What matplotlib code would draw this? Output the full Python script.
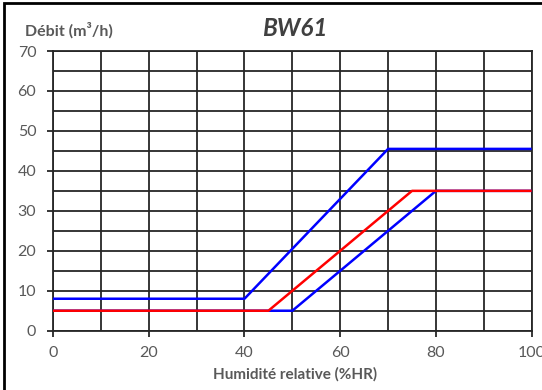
import matplotlib
matplotlib.use("Agg")
import matplotlib.pyplot as plt
from matplotlib.patches import Rectangle

# Data
hr_blue_high = [0, 40, 70, 100]
flow_blue_high = [8, 8, 45.5, 45.5]
hr_blue_low = [0, 50, 80, 100]
flow_blue_low = [5, 5, 35, 35]
hr_red = [0, 45, 75, 100]
flow_red = [5, 5, 35, 35]
x_ticks = [0, 20, 40, 60, 80, 100]
y_ticks = [0, 10, 20, 30, 40, 50, 60, 70]

plt.rcParams['font.family'] = ['Lato', 'DejaVu Sans']
gray = '#595959'

fig = plt.figure(figsize=(5.42, 3.9), dpi=100)
ax = fig.add_axes([53/542, 1 - 330.7/390, (531.7-53)/542, (330.7-51)/390])

ax.set_xlim(0, 100)
ax.set_ylim(0, 70)
ax.set_xticks(x_ticks)
ax.set_yticks(y_ticks)
ax.set_xticks(range(0, 101, 10), minor=True)
ax.set_yticks(range(0, 71, 5), minor=True)
ax.grid(True, which='both', color='#262626', linewidth=1.3)
ax.set_axisbelow(True)
for s in ax.spines.values():
    s.set_color('#262626')
    s.set_linewidth(1.3)

ax.tick_params(axis='both', which='major', length=4, width=1.3, color='#262626',
               labelsize=11.5, labelcolor=gray)
ax.tick_params(axis='y', which='major', pad=8)
ax.tick_params(axis='x', which='major', pad=7)
ax.tick_params(axis='both', which='minor', length=0)

ax.plot(hr_blue_high, flow_blue_high, color='#0000FF', linewidth=1.8, solid_capstyle='butt', zorder=3)
ax.plot(hr_blue_low, flow_blue_low, color='#0000FF', linewidth=1.8, solid_capstyle='butt', zorder=3)
ax.plot(hr_red, flow_red, color='#FF0000', linewidth=1.8, solid_capstyle='butt', zorder=4)

fig.text(295/542, 1 - 28/390, 'BW61', ha='center', va='center', fontsize=17.5,
         fontweight='bold', fontstyle='italic', color='#404040')
fig.text(25/542, 1 - 30/390, 'Débit (m³/h)', ha='left', va='center', fontsize=11.5,
         fontweight='bold', color=gray)
fig.text(295/542, 1 - 374/390, 'Humidité relative (%HR)', ha='center', va='center',
         fontsize=11, fontweight='bold', color=gray)

fig.patches.append(Rectangle((3.5/542, -0.1), 2, 1.1 - 3.5/390, transform=fig.transFigure,
                             fill=False, edgecolor='black', linewidth=2, clip_on=False))

fig.savefig('out.png', dpi=100)
